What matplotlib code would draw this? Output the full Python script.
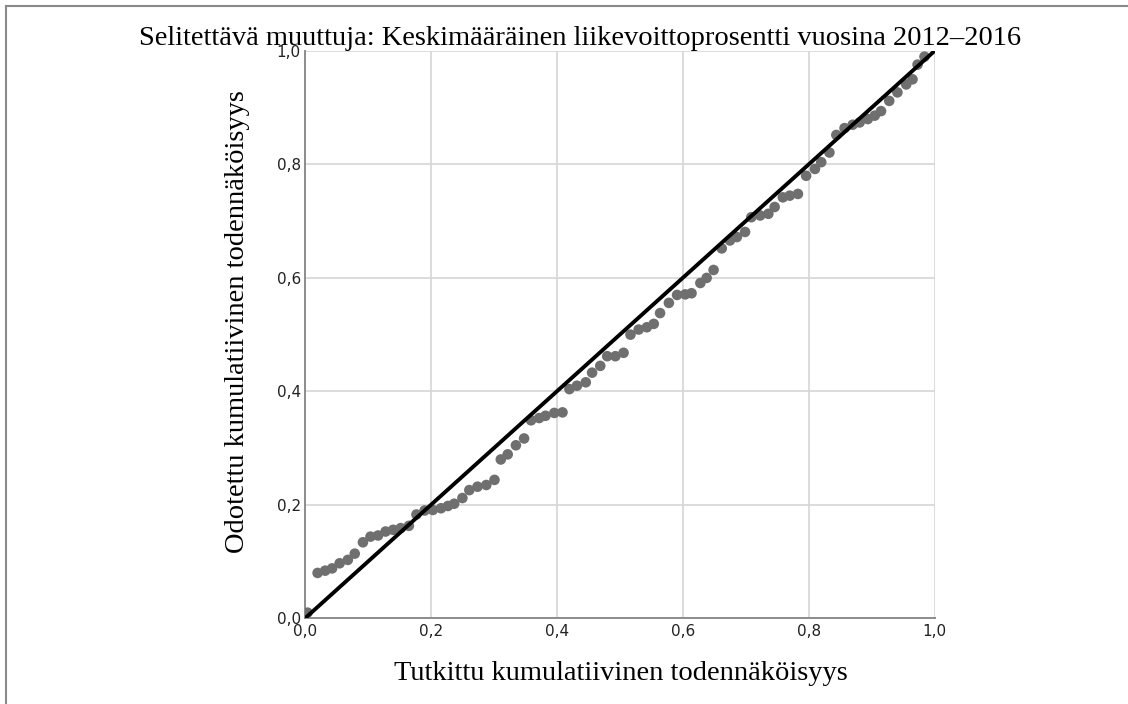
import matplotlib
matplotlib.use('Agg')
import matplotlib.pyplot as plt
from matplotlib.lines import Line2D
from matplotlib.ticker import FuncFormatter

# P-P plot values
observed = [0.004, 0.020, 0.032, 0.043, 0.055, 0.068, 0.079, 0.092, 0.104, 0.116,
            0.128, 0.140, 0.152, 0.165, 0.177, 0.190, 0.203, 0.216, 0.227, 0.237,
            0.250, 0.261, 0.274, 0.288, 0.301, 0.311, 0.322, 0.335, 0.348, 0.359,
            0.372, 0.382, 0.396, 0.409, 0.420, 0.432, 0.446, 0.456, 0.469, 0.480,
            0.493, 0.506, 0.517, 0.530, 0.543, 0.554, 0.564, 0.578, 0.591, 0.604,
            0.614, 0.628, 0.638, 0.649, 0.662, 0.675, 0.686, 0.699, 0.709, 0.723,
            0.736, 0.746, 0.759, 0.770, 0.783, 0.796, 0.810, 0.820, 0.833, 0.844,
            0.857, 0.870, 0.881, 0.894, 0.905, 0.915, 0.928, 0.941, 0.955, 0.965,
            0.973, 0.984]
expected = [0.010, 0.080, 0.084, 0.088, 0.097, 0.103, 0.114, 0.134, 0.144, 0.146,
            0.153, 0.156, 0.159, 0.163, 0.183, 0.190, 0.191, 0.194, 0.198, 0.202,
            0.212, 0.226, 0.232, 0.235, 0.244, 0.280, 0.289, 0.305, 0.317, 0.349,
            0.353, 0.357, 0.362, 0.363, 0.404, 0.410, 0.416, 0.433, 0.445, 0.462,
            0.462, 0.468, 0.500, 0.509, 0.513, 0.519, 0.538, 0.556, 0.570, 0.571,
            0.573, 0.591, 0.600, 0.614, 0.652, 0.666, 0.672, 0.681, 0.707, 0.710,
            0.713, 0.725, 0.742, 0.745, 0.748, 0.780, 0.792, 0.804, 0.821, 0.852,
            0.864, 0.870, 0.874, 0.880, 0.886, 0.894, 0.912, 0.927, 0.941, 0.950,
            0.976, 0.990]
ref_line = [0.0, 1.0]
ticks = [0.0, 0.2, 0.4, 0.6, 0.8, 1.0]

title = 'Selitettävä muuttuja: Keskimääräinen liikevoittoprosentti vuosina 2012–2016'
xlabel = 'Tutkittu kumulatiivinen todennäköisyys'
ylabel = 'Odotettu kumulatiivinen todennäköisyys'

serif = ['Liberation Serif', 'DejaVu Serif']

fig = plt.figure(figsize=(11.28, 7.04), dpi=100)
ax = fig.add_axes([0.2704, 0.1217, 0.5581, 0.8059])

ax.scatter(observed, expected, s=58, color='#6f6f6f', edgecolors='none', zorder=3)
ax.plot(ref_line, ref_line, color='black', linewidth=2.8, zorder=4)

ax.set_xlim(0, 1)
ax.set_ylim(0, 1)
ax.set_xticks(ticks)
ax.set_yticks(ticks)
fmt = FuncFormatter(lambda v, p: f'{v:.1f}'.replace('.', ','))
ax.xaxis.set_major_formatter(fmt)
ax.yaxis.set_major_formatter(fmt)
ax.tick_params(length=0, labelsize=11, colors='#222222', pad=4)
ax.tick_params(axis='y', pad=3)
ax.grid(True, color='#d6d6d6', linewidth=1.2)
ax.set_axisbelow(True)
for side in ['top', 'right']:
    ax.spines[side].set_visible(False)
for side in ['left', 'bottom']:
    ax.spines[side].set_color('#8c8c8c')
    ax.spines[side].set_linewidth(1.4)

fig.text(580 / 1128, 1 - 45 / 704, title, family=serif, fontsize=20.5,
         ha='center', va='baseline')
fig.text(621 / 1128, 1 - 680 / 704, xlabel, family=serif, fontsize=20.5,
         ha='center', va='baseline')
fig.text(237 / 1128, 1 - 322 / 704, ylabel, family=serif, fontsize=20.5,
         ha='center', va='center', rotation=90)

# outer frame (only top and left edges are visible)
fig.add_artist(Line2D([6 / 1128, 6 / 1128], [0, 1 - 6 / 704], transform=fig.transFigure,
                      color='#8a8a8a', linewidth=1.5))
fig.add_artist(Line2D([6 / 1128, 1], [1 - 6 / 704, 1 - 6 / 704], transform=fig.transFigure,
                      color='#8a8a8a', linewidth=1.5))

fig.savefig('out.png', dpi=100)
